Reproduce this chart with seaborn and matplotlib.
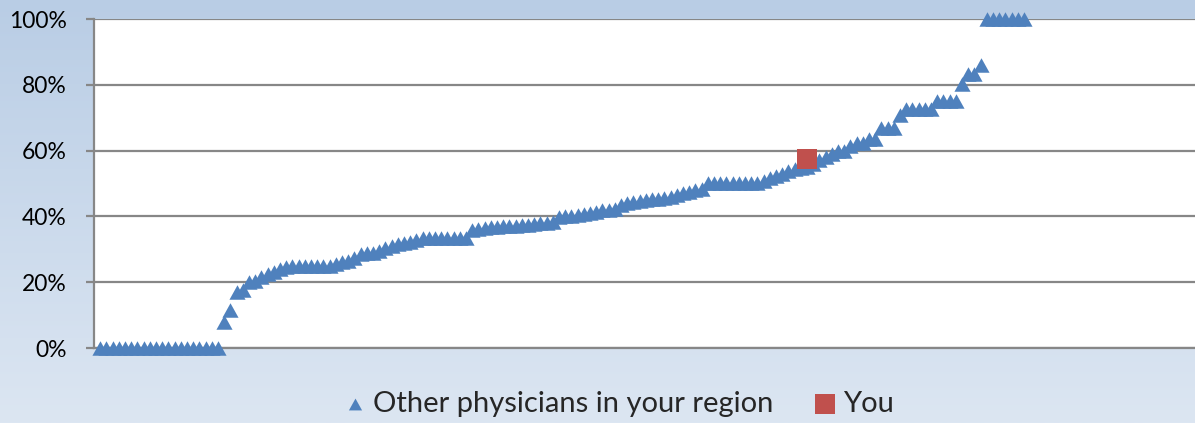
import numpy as np
import pandas as pd
import matplotlib
matplotlib.use("Agg")
import matplotlib.pyplot as plt
from matplotlib.colors import LinearSegmentedColormap
from matplotlib.ticker import PercentFormatter
import seaborn as sns

# ---- data ----
other_values = (
    [0] * 20
    + [8, 11.5, 17, 17.6, 20, 20.5, 21.5, 22.6, 23, 24, 24.6]
    + [25] * 7
    + [25.5, 26, 26.5, 27.5, 28.5, 29, 29, 29.5, 30.5, 31, 31.5, 32, 32.3, 32.8]
    + [33.3] * 8
    + [36, 36.3]
    + [36.5, 36.7, 36.8, 37, 37, 37.2, 37.4, 37.5, 37.7, 37.9, 38, 38.2]
    + [39.8, 40, 40.2, 40.5, 40.8, 41, 41.4, 41.8, 42, 42.3, 43.5, 44, 44.3, 44.6,
       45, 45.2, 45.4, 45.6, 46, 46.5, 47, 47.5, 48, 48.4]
    + [50] * 9
    + [50.9, 51.6, 52.3, 53, 53.8, 54.3, 54.6, 55, 56, 57, 58, 59, 60, 60, 61.5,
       62.3, 62.3, 63.6, 63.6]
    + [67] * 3
    + [70.7]
    + [72.5] * 5
    + [75] * 4
    + [80.3, 83.4, 83.4, 86]
    + [100] * 7
)
other_rank = list(range(1, len(other_values) + 1))
you_rank = [115]
you_value = [57.5]
y_ticks = [0, 20, 40, 60, 80, 100]
legend_labels = ["Other physicians in your region", "You"]

BLUE = "#4F81BD"
RED = "#C0504D"
GRID = "#878787"

sns.set_style("white")
plt.rcParams["font.family"] = ["Lato", "DejaVu Sans"]

W, H = 1195, 423
fig = plt.figure(figsize=(W / 100, H / 100), dpi=100)

# gradient background
bg = fig.add_axes([0, 0, 1, 1], zorder=-10)
cmap = LinearSegmentedColormap.from_list("bg", ["#DCE6F2", "#B9CDE5"])
grad = np.linspace(0, 1, 256).reshape(-1, 1)
bg.imshow(grad, aspect="auto", cmap=cmap, origin="lower", extent=[0, 1, 0, 1])
bg.set_axis_off()

left, bottom, top = 94, 348, 19
ax = fig.add_axes([left / W, (H - bottom) / H, (W - left) / W, (bottom - top) / H])
ax.set_facecolor("white")

df_other = pd.DataFrame({"rank": other_rank, "value": other_values})
df_you = pd.DataFrame({"rank": you_rank, "value": you_value})

tri = [(-1, -0.9), (1, -0.9), (0, 0.9)]
sns.scatterplot(data=df_other, x="rank", y="value", marker=tri, s=11.6 ** 2,
                color=BLUE, linewidth=0, ax=ax, clip_on=False, zorder=3,
                label=legend_labels[0])
sns.scatterplot(data=df_you, x="rank", y="value", marker="s", s=14.5 ** 2,
                color=RED, linewidth=0, ax=ax, clip_on=False, zorder=4,
                label=legend_labels[1])

ax.set_xlim(0, (W - left) / 6.2)
ax.set_ylim(0, 100)
ax.set_yticks(y_ticks)
ax.yaxis.set_major_formatter(PercentFormatter(100, decimals=0))
ax.set_xticks([])
ax.set_xlabel("")
ax.set_ylabel("")
ax.grid(axis="y", color=GRID, linewidth=1.6, zorder=0)
ax.set_axisbelow(True)
for s in ["top", "right"]:
    ax.spines[s].set_visible(False)
for s in ["left", "bottom"]:
    ax.spines[s].set_color(GRID)
    ax.spines[s].set_linewidth(1.6)
ax.tick_params(axis="y", length=6, width=1.6, color=GRID, pad=13.5,
               labelsize=16.5, labelcolor="black", left=True)

ax.legend_.remove()
handles, labels = ax.get_legend_handles_labels()
leg = fig.legend(handles, labels, loc="center", bbox_to_anchor=(620 / W, 1 - 404 / H),
                 ncol=2, frameon=False, fontsize=21, handlelength=0.6,
                 handletextpad=0.3, columnspacing=1.5)
leg.legend_handles[0].set_sizes([9.5 ** 2])
leg.legend_handles[1].set_sizes([14.5 ** 2])

fig.savefig("out.png", dpi=100)
